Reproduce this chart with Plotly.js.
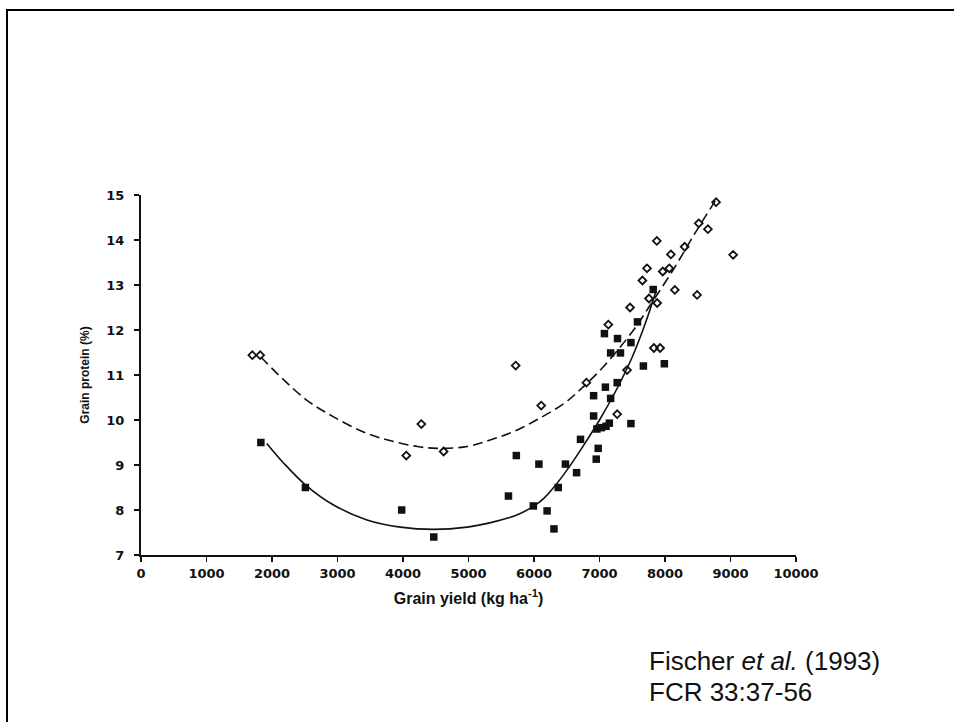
<!DOCTYPE html>
<html>
<head>
<meta charset="utf-8">
<script src="https://cdn.plot.ly/plotly-3.0.1.min.js"></script>
<style>
  html, body { margin: 0; padding: 0; background: #ffffff; }
  #wrap { position: relative; width: 954px; height: 722px; overflow: hidden; }
  #chart { position: absolute; left: 0; top: 0; width: 954px; height: 722px; }
  #frame { position: absolute; left: 6px; top: 9px; width: 1000px; height: 800px;
           border-left: 2px solid #000; border-top: 2px solid #000; pointer-events: none; }
</style>
</head>
<body>
<div id="wrap">
  <div id="chart"></div>
  <div id="frame"></div>
</div>
<script>
// Filled squares (one treatment)
const squareYield = [1830, 2510, 3980, 4470, 5610, 5730, 5990, 6075, 6200, 6305,
                     6370, 6480, 6650, 6710, 6910, 6910, 6950, 6980, 6960, 7030,
                     7100, 7150, 7090, 7170, 7270, 7480, 7670, 7990, 7075, 7275,
                     7480, 7170, 7320, 7580, 7820];
const squareProtein = [9.50, 8.50, 8.00, 7.40, 8.31, 9.21, 8.09, 9.02, 7.98, 7.58,
                       8.50, 9.02, 8.83, 9.57, 10.54, 10.09, 9.13, 9.37, 9.80, 9.83,
                       9.86, 9.93, 10.73, 10.48, 10.83, 9.92, 11.20, 11.25, 11.92, 11.81,
                       11.72, 11.49, 11.49, 12.18, 12.90];

// Open diamonds (other treatment)
const diamondYield = [1700, 1820, 4050, 4280, 4620, 5720, 6110, 6800, 7270, 7420,
                      7135, 7466, 7880, 7755, 7655, 7725, 7965, 8065, 8090, 7875,
                      8300, 8150, 8490, 8515, 8655, 8780, 9040, 7830, 7925];
const diamondProtein = [11.44, 11.44, 9.21, 9.91, 9.30, 11.21, 10.32, 10.83, 10.13, 11.11,
                        12.12, 12.50, 12.60, 12.70, 13.10, 13.37, 13.30, 13.37, 13.68, 13.98,
                        13.85, 12.89, 12.78, 14.37, 14.24, 14.84, 13.67, 11.60, 11.60];

// Fitted curves
const dashedFitX = [1830, 2180, 2560, 2940, 3450, 3860, 4220, 4520, 4980, 5340,
                    5700, 6100, 6460, 6710, 7070, 7520, 7750, 8130, 8470, 8780];
const dashedFitY = [11.40, 10.89, 10.41, 10.07, 9.70, 9.52, 9.41, 9.37, 9.41, 9.56,
                    9.75, 10.05, 10.37, 10.68, 11.20, 12.00, 12.50, 13.35, 14.18, 14.90];
const solidFitX = [1920, 2180, 2510, 2940, 3450, 3960, 4470, 4980, 5340, 5600,
                   5800, 6000, 6150, 6300, 6500, 6750, 7000, 7250, 7500, 7700, 7860];
const solidFitY = [9.48, 9.04, 8.56, 8.11, 7.78, 7.62, 7.57, 7.62, 7.72, 7.82,
                   7.93, 8.09, 8.26, 8.50, 8.88, 9.42, 10.00, 10.65, 11.40, 12.15, 12.85];

const xTicks = [0, 1000, 2000, 3000, 4000, 5000, 6000, 7000, 8000, 9000, 10000];
const yTicks = [7, 8, 9, 10, 11, 12, 13, 14, 15];

const citeLine1 = 'Fischer <i>et al.</i> (1993)';
const citeLine2 = 'FCR 33:37-56';

const traces = [
  { x: dashedFitX, y: dashedFitY, mode: 'lines', type: 'scatter',
    line: { color: '#111', width: 1.6, dash: '10px,5px', shape: 'spline', smoothing: 1 },
    hoverinfo: 'skip' },
  { x: solidFitX, y: solidFitY, mode: 'lines', type: 'scatter',
    line: { color: '#111', width: 1.6, shape: 'spline', smoothing: 1 },
    hoverinfo: 'skip' },
  { x: diamondYield, y: diamondProtein, mode: 'markers', type: 'scatter',
    marker: { symbol: 'diamond-open', size: 6, color: '#111', line: { color: '#111', width: 1.8 } } },
  { x: squareYield, y: squareProtein, mode: 'markers', type: 'scatter',
    marker: { symbol: 'square', size: 7.5, color: '#111', line: { width: 0 } } }
];

const tickFont = { family: 'DejaVu Sans', size: 13, weight: 'bold', color: '#111' };

const layout = {
  width: 954, height: 722,
  margin: { l: 141, r: 158, t: 195, b: 167, pad: 0 },
  paper_bgcolor: '#ffffff', plot_bgcolor: '#ffffff',
  showlegend: false,
  xaxis: {
    range: [0, 10000], tickvals: xTicks, ticktext: xTicks.map(String),
    ticks: 'outside', ticklen: 5, tickwidth: 1.5, tickcolor: '#111',
    showline: true, linecolor: '#111', linewidth: 2,
    showgrid: false, zeroline: false, tickfont: tickFont,
    title: { text: 'Grain yield (kg ha<sup>-1</sup>)', standoff: 13,
             font: { family: 'Liberation Sans, Arial', size: 16, weight: 'bold', color: '#111' } }
  },
  yaxis: {
    range: [7, 15], tickvals: yTicks, ticktext: yTicks.map(String),
    ticks: 'outside', ticklen: 5, tickwidth: 1.5, tickcolor: '#111',
    ticklabelstandoff: 7,
    showline: true, linecolor: '#111', linewidth: 2,
    showgrid: false, zeroline: false, tickfont: tickFont,
    title: { text: 'Grain protein (%)', standoff: 14,
             font: { family: 'Liberation Sans, Arial', size: 12, weight: 'bold', color: '#111' } }
  },
  annotations: [
    { text: citeLine1, xref: 'paper', yref: 'paper', x: (647 - 141) / 655, y: (555 - 661) / 360,
      xanchor: 'left', yanchor: 'middle', showarrow: false,
      font: { family: 'Liberation Sans, Arial', size: 26, color: '#111' } },
    { text: citeLine2, xref: 'paper', yref: 'paper', x: (647 - 141) / 655, y: (555 - 692) / 360,
      xanchor: 'left', yanchor: 'middle', showarrow: false,
      font: { family: 'Liberation Sans, Arial', size: 26, color: '#111' } }
  ]
};

Plotly.newPlot('chart', traces, layout, { displayModeBar: false, staticPlot: true });
</script>
</body>
</html>
